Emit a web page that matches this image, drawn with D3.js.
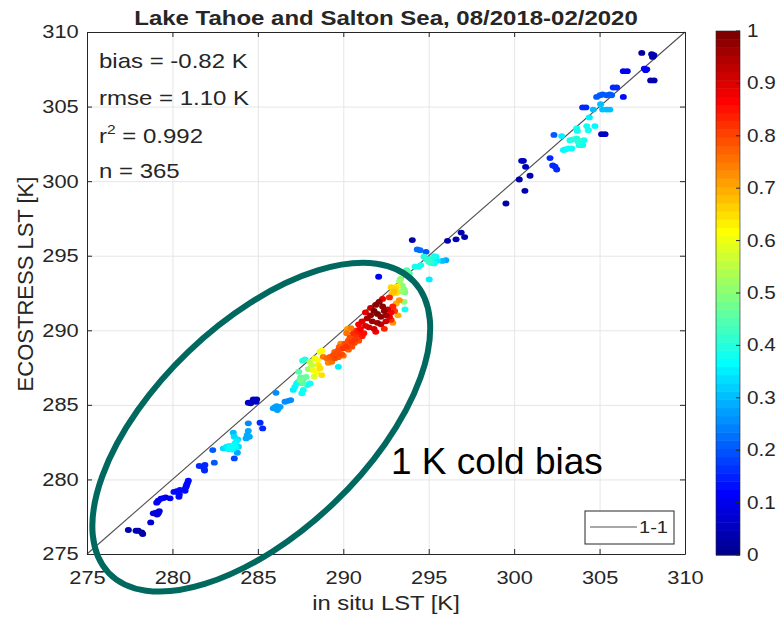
<!DOCTYPE html>
<html>
<head>
<meta charset="utf-8">
<script src="https://cdn.jsdelivr.net/npm/d3@7"></script>
<style>
body { margin: 0; background: #fff; }
text { font-family: Arial, "Liberation Sans", sans-serif; }
</style>
</head>
<body>
<svg width="776" height="620"></svg>
<script>
// tick values
var xTicks = [275, 280, 285, 290, 295, 300, 305, 310];
var yTicks = [275, 280, 285, 290, 295, 300, 305, 310];
var cTicks = [0, 0.1, 0.2, 0.3, 0.4, 0.5, 0.6, 0.7, 0.8, 0.9, 1];
var statLines = ['bias = -0.82 K', 'rmse = 1.10 K', 'r2', 'n = 365'];

// [in situ LST, ECOSTRESS LST, density]
var lowPts = [[277.42,276.61,.03],[277.87,276.56,.03],[278.0,276.56,.03],[278.26,276.34,.02],[278.2,276.45,.02],
  [278.73,277.12,.06],[278.88,277.73,.08],[279.04,277.77,.08],[279.17,277.73,.08],[279.23,277.88,.08],[279.1,277.65,.07],
  [279.08,278.44,.1],[279.17,278.57,.1],[279.33,278.71,.1],[279.47,278.75,.1],[279.6,278.8,.1],[279.86,278.73,.1],
  [280.09,279.16,.12],[280.25,279.22,.12],[280.38,278.84,.12],[280.44,279.29,.12],[280.4,279.0,.12],
  [280.74,279.24,.12],[280.78,279.47,.12],[280.87,279.74,.12],[280.93,279.91,.12],[280.82,279.6,.12],
  [281.57,280.9,.15],[281.85,280.74,.15],[281.9,280.97,.15],[281.88,280.6,.15],
  [282.36,281.97,.2],[282.45,281.12,.2]];

var cyanPts = [[282.98,282.08,.33],[283.18,282.19,.35],[283.33,282.24,.36],[283.47,282.08,.36],[283.56,282.26,.37],
  [283.66,282.42,.36],[283.76,282.57,.35],[283.82,282.69,.33],[283.62,282.86,.33],[283.56,283.13,.3],[283.86,282.19,.33],
  [283.8,281.79,.28],[283.62,281.41,.18],[283.43,282.12,.37],[283.29,282.02,.36],[283.5,282.0,.37],[283.7,282.15,.36],
  [284.44,283.76,.25],[284.44,283.26,.28],[284.38,282.98,.28],[284.31,282.75,.28],[284.5,282.86,.28],
  [285.13,283.8,.15],[285.28,283.42,.15],
  [284.44,285.14,.05],[284.58,285.1,.05],[284.73,285.37,.05],[284.89,285.21,.05],[284.93,285.37,.05],
  [286.06,285.81,.25],
  [285.9,284.77,.27],[286.1,284.92,.27],[286.2,284.77,.27],[286.3,284.87,.27],[286.14,284.65,.27],[286.0,284.85,.27],
  [286.59,285.21,.25],[286.78,285.27,.25],[286.92,285.32,.25],
  [287.07,286.0,.35],[287.17,286.21,.36],[287.27,286.44,.37],[287.37,286.55,.37],[287.57,285.77,.38],[287.66,286.0,.38]];

var midPts = [[287.39,287.22,.45],[287.62,287.96,.4],[287.76,288.05,.4],[287.5,286.84,.45],[287.66,286.71,.45],
  [287.82,286.88,.47],[287.9,286.33,.38],[288.05,286.44,.38],[287.47,286.66,.48],[287.62,286.44,.46],
  [288.05,287.89,.55],[288.15,287.67,.56],[287.95,287.4,.52],[288.3,286.9,.58],
  [288.34,288.12,.6],[288.48,288.0,.62],[288.21,287.33,.6],[288.44,287.22,.62],[288.64,287.45,.65],[288.54,287.67,.64],
  [288.74,287.0,.65],[288.64,288.56,.6],[288.74,288.63,.62],[289.71,287.55,.35]];

var orangePts = [[288.83,288.22,.75],[289.03,288.12,.77],[289.22,288.22,.78],[289.42,288.34,.8],[289.51,288.12,.8],
  [289.61,288.45,.8],[289.71,288.67,.8],[289.77,288.89,.78],[289.32,287.89,.76],[289.12,287.82,.74],
  [289.9,288.4,.8],[290.0,288.8,.82],[290.1,289.1,.8],[290.2,288.9,.82],[290.3,289.3,.8],[290.4,289.5,.8],
  [290.5,289.2,.82],[290.6,289.6,.8],[290.7,289.4,.82],[290.8,289.7,.82],[290.9,289.9,.85],[290.3,288.7,.78],
  [290.0,288.3,.76],[289.7,288.2,.78],[290.5,288.9,.8],[290.9,289.3,.8],[291.1,289.6,.85],[290.2,289.8,.76],
  [290.45,290.15,.75],[290.25,290.1,.72],[289.85,289.1,.74],[289.5,288.55,.78],[290.65,289.15,.8]];

var redPts = [[291.9,291.7,.99],[292.1,291.9,.98],[292.3,291.6,.99],[291.8,291.3,1],[292.0,291.1,1],[292.4,291.3,.98],
  [291.6,291.0,.97],[292.2,290.9,.99],[291.7,290.6,.97],[291.4,290.8,.96],[292.5,291.0,.96],[292.0,290.5,.97],
  [291.3,290.3,.9],[291.1,290.6,.9],[291.5,290.2,.92],[291.8,290.1,.92],[292.2,290.4,.93],[292.5,290.6,.92],
  [292.7,290.9,.9],[292.6,291.4,.92],[292.3,292.1,.9],[291.6,291.5,.93],[291.3,291.2,.9],[291.0,290.1,.88],
  [290.9,290.4,.88],[292.8,291.2,.88],[291.9,289.9,.88],[291.2,289.8,.86],
  [290.8,290.0,.84],[290.6,289.8,.83],[292.9,291.6,.84],[293.0,291.3,.82],[292.8,290.7,.83],[292.4,290.1,.84],
  [292.7,292.2,.84],[293.1,291.8,.7],[293.2,291.0,.7],[292.9,290.5,.72]];

var upperPts = [[292.8,292.9,.66],[292.95,292.6,.68],[293.05,292.8,.66],[293.1,292.5,.65],[292.85,292.45,.67],[293.15,292.95,.64],
  [293.3,293.3,.52],[293.45,293.0,.5],[293.55,292.75,.5],[293.4,292.6,.52],[293.6,292.55,.48],[293.35,293.45,.5],
  [293.28,292.02,.72],[293.55,291.91,.5],[293.61,291.4,.38],
  [293.71,294.03,.45],[293.87,293.81,.45],[293.67,293.7,.47],
  [292.07,293.59,.1],[294.04,296.05,.02],
  [294.33,295.42,.22],[294.49,295.37,.22],[294.84,295.26,.2],
  [294.72,294.93,.4],[294.88,294.75,.4],[295.03,294.75,.4],[295.17,294.82,.4],[295.31,294.97,.38],[295.43,294.93,.37],
  [295.11,294.52,.4],[295.31,294.48,.38],[295.5,294.66,.35],[295.0,294.6,.42],
  [294.2,294.26,.38],[294.39,294.26,.38],[294.53,294.37,.38],[295.03,293.41,.35],
  [295.8,294.65,.3],[296.0,294.7,.28],
  [296.1,296.0,.03],[296.6,296.1,.03],[296.9,296.55,.03],[297.1,296.25,.03],[299.52,298.5,.02]];

var hotPts = [[300.3,300.11,.03],[300.63,299.35,.03],[300.44,301.36,.05],[300.54,301.36,.05],[300.67,300.96,.04],[300.93,300.36,.04],
  [302.1,301.55,.15],[302.26,301.05,.15],[302.39,300.98,.15],[302.49,300.78,.15],
  [302.33,303.1,.2],[302.78,303.02,.35],
  [303.27,302.75,.38],[303.46,302.8,.4],[303.66,302.86,.4],[303.76,302.63,.4],[303.85,302.7,.4],[304.01,302.41,.38],
  [303.81,302.41,.38],[304.09,302.75,.38],[303.17,302.19,.37],[303.37,302.19,.37],[302.88,302.08,.36],[302.98,302.12,.36],
  [303.66,303.53,.38],[303.7,303.37,.38],[304.25,303.69,.38],[304.34,303.42,.38],[304.73,303.69,.36],
  [305.12,303.15,.05],[305.32,303.15,.05],[304.4,304.27,.35],
  [304.01,304.94,.15],[304.2,304.94,.15],
  [304.63,304.8,.3],[305.06,305.16,.3],[305.18,304.8,.3],[305.41,304.8,.3],[305.6,304.8,.3],
  [304.83,305.65,.2],[305.03,305.76,.2],[305.18,305.81,.2],[305.41,305.76,.2],[305.6,305.81,.2],[305.7,305.76,.2],
  [305.8,306.28,.15],[306.0,306.28,.15],[306.39,305.65,.12],
  [306.39,307.37,.1],[306.62,307.37,.1],
  [307.62,307.55,.1],[307.7,307.44,.1],[307.76,307.5,.1],
  [307.99,306.75,.03],[308.19,306.75,.03],
  [307.47,308.6,.02],[308.05,308.51,.03],[308.14,308.38,.03],[308.1,308.33,.03],[308.18,308.45,.03]];

var allPts = lowPts.concat(cyanPts, midPts, orangePts, redPts, upperPts, hotPts)
  .sort((a, b) => a[2] - b[2]);

var svg = d3.select('svg');
var L = 87, R = 685, T = 32, B = 554;
var sx = 1.18;   // the chart text is a bit wider than the font
var ink = '#262626';

var x = d3.scaleLinear().domain([275, 310]).range([L, R]);
var y = d3.scaleLinear().domain([275, 310]).range([B, T]);
var c = d3.scaleLinear().domain([0, 1]).range([555, 31]);
var jet = d3.scaleLinear()
  .domain([0, 0.111, 0.365, 0.619, 0.873, 1])
  .range(['#000090', '#0000ff', '#00ffff', '#ffff00', '#ff0000', '#800000'])
  .clamp(true);

function txt(px, py, str, size, stretch, anchor, weight) {
  return svg.append('text')
    .attr('transform', 'translate(' + px + ',' + py + ') scale(' + stretch + ',1)')
    .attr('font-size', size).attr('fill', ink)
    .attr('text-anchor', anchor || 'start')
    .attr('font-weight', weight || 'normal')
    .text(str);
}

// grid
svg.append('g').attr('transform', 'translate(0,' + B + ')')
  .call(d3.axisBottom(x).tickValues(xTicks).tickSize(-(B - T)).tickFormat(''))
  .call(g => g.select('.domain').remove())
  .selectAll('line').attr('stroke', '#e6e6e6');
svg.append('g').attr('transform', 'translate(' + L + ',0)')
  .call(d3.axisLeft(y).tickValues(yTicks).tickSize(-(R - L)).tickFormat(''))
  .call(g => g.select('.domain').remove())
  .selectAll('line').attr('stroke', '#e6e6e6');

// 1-1 line
svg.append('line')
  .attr('x1', x(275)).attr('y1', y(275)).attr('x2', x(310)).attr('y2', y(310))
  .attr('stroke', '#505050').attr('stroke-width', 1.1);

// points
svg.append('g').selectAll('ellipse')
  .data(allPts).enter()
  .append('ellipse')
  .attr('cx', d => x(d[0])).attr('cy', d => y(d[1]))
  .attr('rx', 3.5).attr('ry', 2.9)
  .attr('fill', d => jet(d[2]));

// axes box
var xAxisG = svg.append('g').attr('transform', 'translate(0,' + B + ')')
  .call(d3.axisBottom(x).tickValues(xTicks).tickSizeInner(-5).tickSizeOuter(0).tickPadding(17));
var yAxisG = svg.append('g').attr('transform', 'translate(' + L + ',0)')
  .call(d3.axisLeft(y).tickValues(yTicks).tickSizeInner(-5).tickSizeOuter(0).tickPadding(7));
svg.append('g').attr('transform', 'translate(0,' + T + ')')
  .call(d3.axisTop(x).tickValues(xTicks).tickSizeInner(-5).tickSizeOuter(0).tickFormat(''));
svg.append('g').attr('transform', 'translate(' + R + ',0)')
  .call(d3.axisRight(y).tickValues(yTicks).tickSizeInner(-5).tickSizeOuter(0).tickFormat(''));
svg.selectAll('.domain').attr('stroke', ink);
svg.selectAll('.tick line').filter(function () { return this.getAttribute('stroke') !== '#e6e6e6'; })
  .attr('stroke', ink);
[xAxisG, yAxisG].forEach(g => {
  g.attr('font-size', 18.5).attr('font-family', 'Arial, "Liberation Sans", sans-serif');
  g.selectAll('text').attr('fill', ink).attr('transform', 'scale(' + sx + ',1)');
});

// labels
txt(386, 25, 'Lake Tahoe and Salton Sea, 08/2018-02/2020', 20, 1.2, 'middle', 'bold');
txt(386, 610, 'in situ LST [K]', 20, 1.19, 'middle');
svg.append('text')
  .attr('transform', 'translate(33,284) rotate(-90)')
  .attr('font-size', 22).attr('fill', ink).attr('text-anchor', 'middle')
  .text('ECOSTRESS LST [K]');

// stats
txt(99, 68, statLines[0], 20, 1.2);
txt(99, 105, statLines[1], 20, 1.2);
var r2 = txt(99, 143, '', 20, 1.2);
r2.append('tspan').text('r');
r2.append('tspan').attr('font-size', 13).attr('dy', -9).text('2');
r2.append('tspan').attr('dy', 9).text(' = 0.992');
txt(99, 178, statLines[3], 20, 1.2);

// legend
svg.append('rect').attr('x', 585).attr('y', 511).attr('width', 89).attr('height', 33)
  .attr('fill', '#fff').attr('stroke', ink).attr('stroke-width', 1);
svg.append('line').attr('x1', 590).attr('x2', 637).attr('y1', 527).attr('y2', 527)
  .attr('stroke', '#505050');
txt(639, 533, '1-1', 17, 1.18);

// colorbar
var bands = d3.range(64);
svg.append('g').selectAll('rect')
  .data(bands).enter()
  .append('rect')
  .attr('x', 716).attr('width', 24)
  .attr('y', d => c((d + 1) / 64)).attr('height', d => c(d / 64) - c((d + 1) / 64) + 0.5)
  .attr('fill', d => jet(d / 63));
svg.append('rect').attr('x', 716).attr('y', c(1)).attr('width', 24).attr('height', c(0) - c(1))
  .attr('fill', 'none').attr('stroke', ink).attr('stroke-width', 0.6);
svg.append('g').selectAll('line')
  .data(cTicks).enter()
  .append('line')
  .attr('x1', 736).attr('x2', 740)
  .attr('y1', d => c(d)).attr('y2', d => c(d))
  .attr('stroke', ink);
cTicks.forEach(v => {
  txt(747, c(v) + 6, String(v), 18, 1.15);
});

// annotation
svg.append('ellipse')
  .attr('transform', 'translate(' + x(285.2) + ',' + y(283.5) + ') rotate(-43.7)')
  .attr('rx', 211).attr('ry', 105)
  .attr('fill', 'none').attr('stroke', '#00695f').attr('stroke-width', 6);
svg.append('text').attr('x', 391).attr('y', 474)
  .attr('font-size', 37).attr('fill', '#000')
  .text('1 K cold bias');
</script>
</body>
</html>
